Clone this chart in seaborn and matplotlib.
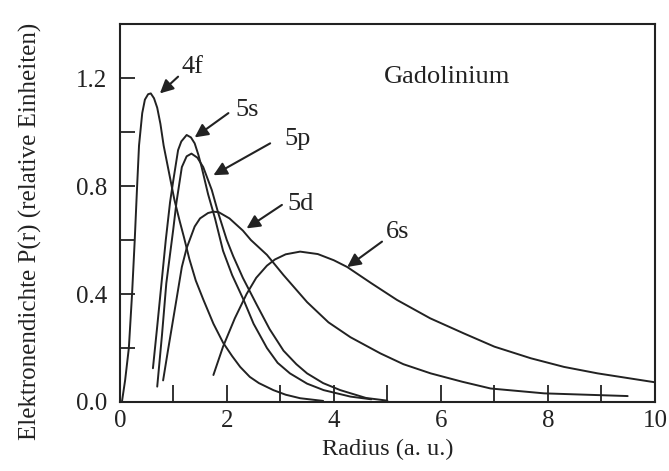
import matplotlib
matplotlib.use("Agg")
import matplotlib.pyplot as plt
import seaborn as sns
import pandas as pd

# ---- data ----
r_4f = [0.04, 0.10, 0.17, 0.23, 0.28, 0.32, 0.36, 0.42, 0.47, 0.53, 0.58, 0.64, 0.70, 0.76, 0.82,
        0.94, 1.02, 1.12, 1.20, 1.30, 1.42, 1.56, 1.75, 1.93, 2.10, 2.25, 2.43, 2.60, 2.87, 3.10,
        3.37, 3.80]
p_4f = [0.0, 0.08, 0.20, 0.40, 0.60, 0.78, 0.95, 1.07, 1.12, 1.14, 1.143, 1.125, 1.09, 1.03, 0.95,
        0.83, 0.75, 0.67, 0.61, 0.53, 0.45, 0.38, 0.29, 0.22, 0.17, 0.13, 0.093, 0.07, 0.044, 0.027,
        0.014, 0.004]

r_5s = [0.62, 0.70, 0.78, 0.86, 0.94, 1.00, 1.09, 1.15, 1.25, 1.33, 1.40, 1.47, 1.53, 1.65, 1.78,
        1.93, 2.10, 2.31, 2.50, 2.75, 2.95, 3.18, 3.50, 3.81, 4.31, 4.70]
p_5s = [0.125, 0.28, 0.44, 0.60, 0.74, 0.82, 0.933, 0.965, 0.989, 0.98, 0.958, 0.915, 0.87, 0.77,
        0.68, 0.56, 0.47, 0.38, 0.29, 0.20, 0.145, 0.106, 0.068, 0.044, 0.02, 0.01]

r_5p = [0.70, 0.79, 0.87, 1.00, 1.06, 1.16, 1.25, 1.34, 1.45, 1.56, 1.72, 1.84, 2.00, 2.12, 2.30,
        2.56, 2.80, 3.06, 3.30, 3.50, 3.80, 4.12, 4.60, 5.00]
p_5p = [0.057, 0.25, 0.44, 0.64, 0.74, 0.87, 0.91, 0.92, 0.905, 0.87, 0.785, 0.70, 0.60, 0.54, 0.46,
        0.36, 0.27, 0.19, 0.14, 0.106, 0.07, 0.044, 0.015, 0.005]

r_5d = [0.81, 0.90, 1.06, 1.16, 1.25, 1.40, 1.50, 1.65, 1.75, 1.85, 2.05, 2.30, 2.45, 2.75, 3.06,
        3.50, 3.90, 4.31, 4.87, 5.30, 5.81, 6.40, 6.93, 7.93, 9.49]
p_5d = [0.08, 0.19, 0.38, 0.50, 0.57, 0.65, 0.68, 0.70, 0.705, 0.703, 0.68, 0.635, 0.60, 0.545, 0.47,
        0.37, 0.295, 0.24, 0.18, 0.14, 0.106, 0.075, 0.05, 0.032, 0.022]

r_6s = [1.75, 1.93, 2.15, 2.37, 2.55, 2.75, 2.90, 3.10, 3.37, 3.70, 4.00, 4.25, 4.70, 5.18, 5.80,
        6.43, 7.00, 7.68, 8.30, 8.93, 10.0]
p_6s = [0.10, 0.205, 0.31, 0.40, 0.46, 0.505, 0.528, 0.547, 0.557, 0.548, 0.525, 0.50, 0.44, 0.378,
        0.31, 0.254, 0.205, 0.162, 0.13, 0.106, 0.073]

x_ticks = [0, 2, 4, 6, 8, 10]
y_ticks = [0.0, 0.4, 0.8, 1.2]
y_tick_labels = ["0.0", "0.4", "0.8", "1.2"]

# labels: (text, text position, arrow tail, arrow tip)
labels = ["4f", "5s", "5p", "5d", "6s"]
label_pos = [(1.36, 1.24), (2.38, 1.08), (3.32, 0.975), (3.38, 0.735), (5.19, 0.63)]
arrow_tail = [(1.09, 1.205), (2.03, 1.07), (2.81, 0.958), (3.03, 0.73), (4.90, 0.594)]
arrow_tip = [(0.75, 1.143), (1.40, 0.98), (1.75, 0.84), (2.37, 0.643), (4.25, 0.50)]

title_text = "Gadolinium"
x_label = "Radius (a. u.)"
y_label = "Elektronendichte P(r) (relative Einheiten)"

# ---- plotting ----
sns.set_theme(style="ticks")
plt.rcParams["font.family"] = ["Liberation Serif", "DejaVu Serif"]
ink = "#222222"

fig = plt.figure(figsize=(6.69, 4.71), dpi=100)
ax = fig.add_axes([0.179, 0.1465, 0.800, 0.8025])

curves = [(r_4f, p_4f), (r_5s, p_5s), (r_5p, p_5p), (r_5d, p_5d), (r_6s, p_6s)]
for rr, pp in curves:
    df = pd.DataFrame({"r": rr, "P": pp})
    sns.lineplot(data=df, x="r", y="P", ax=ax, color=ink, lw=1.4, sort=False, estimator=None)

ax.set_xlim(0, 10)
ax.set_ylim(0, 1.4)
ax.set_xticks(x_ticks)
ax.set_xticklabels([str(t) for t in x_ticks])
ax.set_xticks([1, 3, 5, 7, 9], minor=True)
ax.set_yticks(y_ticks)
ax.set_yticklabels(y_tick_labels)
ax.set_yticks([0.2, 0.6, 1.0], minor=True)

ax.tick_params(axis="x", which="both", direction="in", length=12.5, width=1.3, color=ink,
               labelsize=18, pad=6, labelcolor=ink, top=False)
ax.tick_params(axis="y", which="both", direction="in", length=11, width=1.3, color=ink,
               labelsize=18, pad=9, labelcolor=ink, right=False)

for s in ax.spines.values():
    s.set_visible(True)
    s.set_color(ink)
    s.set_linewidth(1.5)

ax.set_xlabel(x_label, fontsize=17.5, color=ink, labelpad=5)
ax.set_ylabel(y_label, fontsize=18, color=ink)
ax.yaxis.set_label_coords(-0.146, 0.452)

for txt, pos, tail, tip in zip(labels, label_pos, arrow_tail, arrow_tip):
    ax.text(pos[0], pos[1], txt, fontsize=19, color=ink, ha="center", va="center")
    ax.annotate("", xy=tip, xytext=tail,
                arrowprops=dict(arrowstyle="-|>", color=ink, lw=1.5, mutation_scale=20,
                                shrinkA=0, shrinkB=0))

ax.text(6.12, 1.205, title_text, fontsize=19, color=ink, ha="center", va="center")

fig.savefig("out.png", dpi=100)
